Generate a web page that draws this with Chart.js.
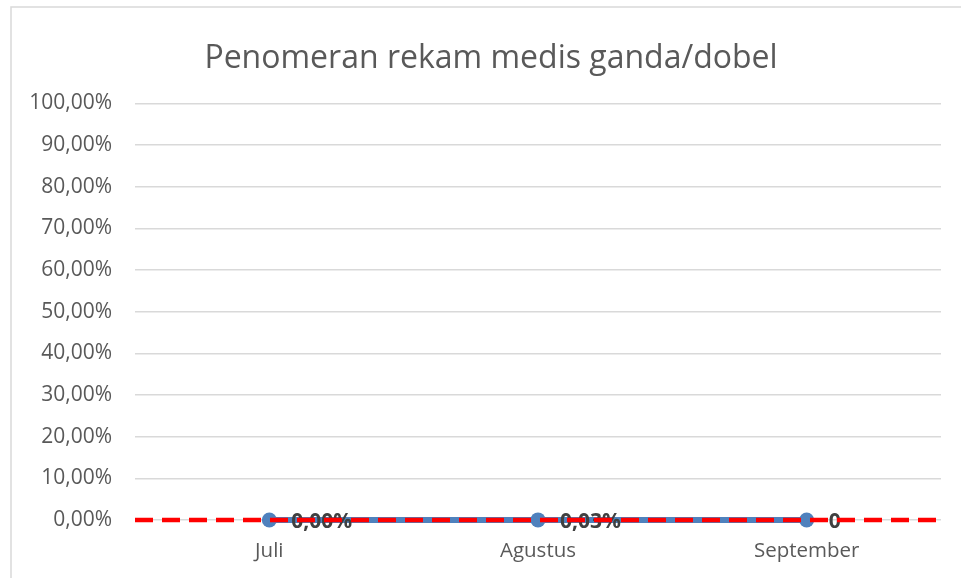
<!DOCTYPE html>
<html>
<head>
    <title>Penomeran rekam medis ganda/dobel</title>
    <script src="https://cdn.jsdelivr.net/npm/chart.js"></script>
    <style>
        body {
            margin: 0;
            background: #ffffff;
        }
        canvas {
            display: block;
        }
    </style>
</head>
<body>
    <canvas id="rmChart" width="961" height="578"></canvas>

    <script>
        // data
        const categories = ['Juli', 'Agustus', 'September'];
        const rateValues = [0, 0.0003, 0];
        const rateLabels = ['0,00%', '0,03%', '0'];
        const targetValue = 0;
        const yMin = 0;
        const yMax = 1;
        const yStep = 0.1;

        const fontName = "'Open Sans', 'DejaVu Sans', sans-serif";

        // red target line runs across the whole plot on a hidden linear axis
        const targetPoints = [
            { x: 0, y: targetValue },
            { x: categories.length, y: targetValue }
        ];

        function formatPct(v) {
            return (v * 100).toFixed(2).replace('.', ',') + '%';
        }

        // white background + thin frame like the excel chart area
        const framePlugin = {
            id: 'frame',
            afterLayout(chart) {
                // let the y labels use the space left of the padding (no clipping)
                const s = chart.scales.y;
                s.left = 0;
                s.width = s.right;
            },
            beforeDraw(chart) {
                const ctx = chart.ctx;
                ctx.save();
                ctx.fillStyle = '#ffffff';
                ctx.fillRect(0, 0, chart.width, chart.height);
                ctx.strokeStyle = '#d9d9d9';
                ctx.lineWidth = 1.5;
                ctx.beginPath();
                ctx.moveTo(11, chart.height);
                ctx.lineTo(11, 7);
                ctx.lineTo(chart.width, 7);
                ctx.stroke();
                ctx.restore();
            }
        };

        // data labels next to the blue points (drawn before the red line)
        const labelPlugin = {
            id: 'pointLabels',
            afterDatasetDraw(chart, args) {
                if (args.index !== 0) return;
                const ctx = chart.ctx;
                ctx.save();
                ctx.font = "bold 21px " + fontName;
                ctx.fillStyle = '#404040';
                ctx.textAlign = 'left';
                ctx.textBaseline = 'middle';
                args.meta.data.forEach((pt, i) => {
                    ctx.fillText(rateLabels[i], pt.x + 22, pt.y + 2);
                });
                ctx.restore();
            }
        };

        const ctx = document.getElementById('rmChart').getContext('2d');
        const chart = new Chart(ctx, {
            type: 'line',
            data: {
                labels: categories,
                datasets: [{
                    label: 'Penomeran rekam medis ganda/dobel',
                    data: rateValues,
                    borderColor: '#4f81bd',
                    backgroundColor: '#4f81bd',
                    borderWidth: 6,
                    pointRadius: 7.5,
                    pointBorderWidth: 0,
                    pointBackgroundColor: '#4f81bd',
                    fill: false,
                    clip: false,
                    order: 1
                },
                {
                    label: 'Target',
                    data: targetPoints,
                    xAxisID: 'xLine',
                    borderColor: '#ff0000',
                    borderWidth: 4.5,
                    borderDash: [18, 9],
                    pointRadius: 0,
                    fill: false,
                    clip: false,
                    order: 0
                }]
            },
            options: {
                responsive: false,
                animation: false,
                layout: {
                    autoPadding: false,
                    padding: { top: 32, left: 41, right: 20, bottom: 0 }
                },
                plugins: {
                    legend: { display: false },
                    tooltip: { enabled: false },
                    title: {
                        display: true,
                        text: 'Penomeran rekam medis ganda/dobel',
                        color: '#595959',
                        font: { family: fontName, size: 32, weight: 'normal' },
                        padding: { top: 8, bottom: 25 }
                    }
                },
                scales: {
                    x: {
                        offset: true,
                        grid: { display: false, drawTicks: false },
                        border: { display: false },
                        ticks: {
                            color: '#595959',
                            padding: 19,
                            font: { family: fontName, size: 20.5 }
                        },
                        afterFit: (scale) => { scale.height = 58; }
                    },
                    xLine: {
                        type: 'linear',
                        display: false,
                        min: 0,
                        max: categories.length
                    },
                    y: {
                        min: yMin,
                        max: yMax,
                        grid: { color: '#d9d9d9', lineWidth: 1.5, drawTicks: false },
                        border: { display: false },
                        ticks: {
                            stepSize: yStep,
                            color: '#595959',
                            padding: 23,
                            font: { family: fontName, size: 21 },
                            callback: (v) => formatPct(v)
                        },
                        afterFit: (scale) => { scale.width = 94; }
                    }
                }
            },
            plugins: [framePlugin, labelPlugin]
        });
    </script>
</body>
</html>
